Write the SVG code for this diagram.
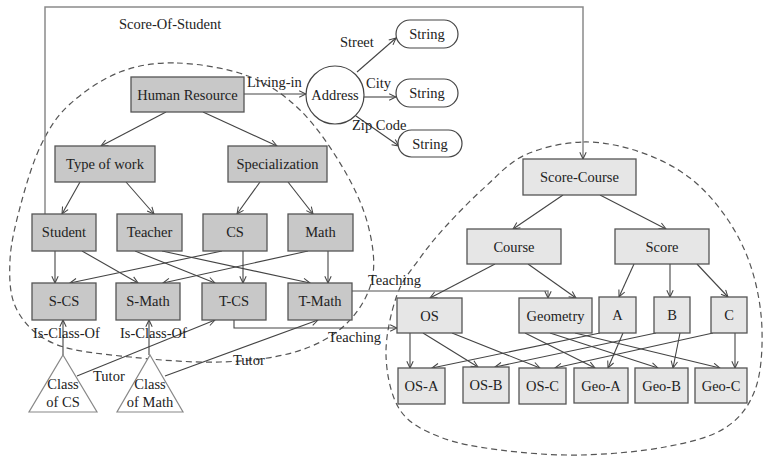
<svg xmlns="http://www.w3.org/2000/svg" width="763" height="456" viewBox="0 0 763 456">
  <defs>
    <marker id="arr" viewBox="0 0 10 10" refX="9.5" refY="5" markerWidth="8" markerHeight="8" markerUnits="userSpaceOnUse" orient="auto">
      <path d="M1,1 L9.5,5 L1,9" fill="none" stroke="#444" stroke-width="1.3"/>
    </marker>
    <style>
      text { font-family: "Liberation Serif", "Times New Roman", serif; font-size: 14.5px; fill: #222; }
      .c { text-anchor: middle; }
      .dark rect { fill: #c8c8c8; stroke: #555; stroke-width: 1.3; }
      .light rect { fill: #e6e6e6; stroke: #555; stroke-width: 1.3; }
      .str rect { fill: #fff; stroke: #444; stroke-width: 1.2; }
      .tri polygon { fill: #fff; stroke: #888; stroke-width: 1.2; }
      .edge { fill: none; stroke: #444; stroke-width: 1.1; marker-end: url(#arr); }
      .edge.grey { stroke: #8a8a8a; stroke-width: 1.5; }
      .region { fill: none; stroke: #555; stroke-width: 1.2; stroke-dasharray: 6 4; }
    </style>
  </defs>
  <rect width="763" height="456" fill="#fff"/>

  <!-- dashed domain regions -->
  <path class="region" d="M177,63 C198.3,63.7 227.5,68.2 248,76 S284.2,94.7 300,110 S331.7,148.8 343,168 S363.2,206.3 368,225 S375.8,263.3 372,280 S357.8,313 345,325 S315.8,345.8 295,352 S247.5,361.2 220,362 S157.5,360 130,357 S73.8,351.8 55,344 S24.5,324 17,310 S9.2,278.3 10,260 S16.7,219.5 22,200 S34,159 42,143 S57,115.8 70,104 S102.2,78.8 120,72 S155.7,62.3 177,63 Z"/>
  <path class="region" d="M583,142 C602.2,141.5 622.2,146 640,152 S675.3,166.7 690,178 S717.7,204.7 728,220 S746.3,251.7 752,270 S761.5,310 762,330 S761.2,373.7 755,390 S740,418.5 725,428 S689.2,442.5 665,447 S607.5,454.5 580,455 S523.3,453 500,450 S456.7,443.7 440,437 S409,423.7 400,410 S386.5,374.2 386,355 S391.3,311.2 397,295 S411.7,269.7 420,258 S436.2,236.8 447,225 S472,198.7 485,187 S508.7,162.5 525,155 S563.8,142.5 583,142 Z"/>

  <!-- connectors -->
  <g id="connectors">
    <path class="edge grey" d="M45,214 V7 H583 V159"/>
    <path class="edge" d="M244,94 H306"/>
    <path class="edge" d="M357,72 L396,38"/>
    <path class="edge" d="M364,97 H396"/>
    <path class="edge" d="M356,116 L399,146"/>
    <path class="edge" d="M166,112 L101,146"/>
    <path class="edge" d="M203,112 L277,146"/>
    <path class="edge" d="M80,182 L62,214"/>
    <path class="edge" d="M126,182 L154,214"/>
    <path class="edge" d="M260,182 L237,214"/>
    <path class="edge" d="M288,182 L313,214"/>
    <path class="edge" d="M55,251 V283"/>
    <path class="edge" d="M82,251 L138,283"/>
    <path class="edge" d="M135,251 L215,283"/>
    <path class="edge" d="M162,251 L310,283"/>
    <path class="edge" d="M222,251 L70,283"/>
    <path class="edge" d="M243,251 V283"/>
    <path class="edge" d="M308,251 L163,283"/>
    <path class="edge" d="M328,251 V283"/>
    <path class="edge" d="M63,355 V320"/>
    <path class="edge" d="M149,355 V320"/>
    <path class="edge" d="M77,376 L215,320"/>
    <path class="edge" d="M165,376 L318,320"/>
    <path class="edge" d="M234,320 V328 H397"/>
    <path class="edge grey" d="M352,291 H548 V298"/>
    <path class="edge" d="M563,195 L513,229"/>
    <path class="edge" d="M600,195 L666,229"/>
    <path class="edge" d="M495,264 L430,298"/>
    <path class="edge" d="M528,264 L576,298"/>
    <path class="edge" d="M634,264 L619,297"/>
    <path class="edge" d="M670,264 V297"/>
    <path class="edge" d="M697,264 L728,297"/>
    <path class="edge" d="M410,333 V368"/>
    <path class="edge" d="M423,333 L478,367"/>
    <path class="edge" d="M452,333 L540,368"/>
    <path class="edge" d="M525,333 L595,368"/>
    <path class="edge" d="M550,333 L658,368"/>
    <path class="edge" d="M575,333 L720,368"/>
    <path class="edge" d="M600,333 L432,368"/>
    <path class="edge" d="M623,333 L608,368"/>
    <path class="edge" d="M656,333 L495,367"/>
    <path class="edge" d="M680,333 L673,368"/>
    <path class="edge" d="M713,333 L555,368"/>
    <path class="edge" d="M735,333 V368"/>
  </g>

  <!-- connector labels -->
  <g id="labels">
    <text x="119" y="29">Score-Of-Student</text>
    <text x="247" y="87">Living-in</text>
    <text x="340" y="47">Street</text>
    <text x="366" y="88">City</text>
    <text x="352" y="130">Zip Code</text>
    <text x="33" y="338">Is-Class-Of</text>
    <text x="120" y="338">Is-Class-Of</text>
    <text x="93" y="381">Tutor</text>
    <text x="233" y="365">Tutor</text>
    <text x="368" y="285">Teaching</text>
    <text x="328" y="342">Teaching</text>
  </g>

  <!-- human resource domain -->
  <g id="human-resource" class="dark"><rect x="131" y="77" width="113" height="35"/><text class="c" x="187.5" y="99.5">Human Resource</text></g>
  <g id="type-of-work" class="dark"><rect x="55" y="146" width="100" height="36"/><text class="c" x="105" y="169">Type of work</text></g>
  <g id="specialization" class="dark"><rect x="228" y="146" width="99" height="36"/><text class="c" x="277.5" y="169">Specialization</text></g>
  <g id="student" class="dark"><rect x="32" y="214" width="64" height="37"/><text class="c" x="64" y="237">Student</text></g>
  <g id="teacher" class="dark"><rect x="117" y="214" width="65" height="37"/><text class="c" x="149.5" y="237">Teacher</text></g>
  <g id="cs" class="dark"><rect x="203" y="214" width="64" height="37"/><text class="c" x="235" y="237">CS</text></g>
  <g id="math" class="dark"><rect x="288" y="214" width="65" height="37"/><text class="c" x="320.5" y="237">Math</text></g>
  <g id="s-cs" class="dark"><rect x="32" y="283" width="64" height="37"/><text class="c" x="64" y="306">S-CS</text></g>
  <g id="s-math" class="dark"><rect x="116" y="283" width="64" height="37"/><text class="c" x="148" y="306">S-Math</text></g>
  <g id="t-cs" class="dark"><rect x="202" y="283" width="64" height="37"/><text class="c" x="234" y="306">T-CS</text></g>
  <g id="t-math" class="dark"><rect x="288" y="283" width="64" height="37"/><text class="c" x="320" y="306">T-Math</text></g>

  <g id="class-of-cs" class="tri"><polygon points="63,355 97,412 29,412"/><text class="c" x="63" y="389">Class</text><text class="c" x="63" y="407">of CS</text></g>
  <g id="class-of-math" class="tri"><polygon points="150,355 183,412 117,412"/><text class="c" x="150" y="389">Class</text><text class="c" x="150" y="407">of Math</text></g>

  <!-- address -->
  <g id="address"><circle cx="335" cy="95" r="29" fill="#fff" stroke="#444" stroke-width="1.2"/><text class="c" x="335" y="100">Address</text></g>
  <g id="string-street" class="str"><rect x="396" y="20" width="62" height="28" rx="14"/><text class="c" x="427" y="39">String</text></g>
  <g id="string-city" class="str"><rect x="396" y="79" width="62" height="28" rx="14"/><text class="c" x="427" y="98">String</text></g>
  <g id="string-zip" class="str"><rect x="398" y="130" width="64" height="27" rx="13.5"/><text class="c" x="430" y="148.5">String</text></g>

  <!-- score-course domain -->
  <g id="score-course" class="light"><rect x="523" y="159" width="113" height="36"/><text class="c" x="579.5" y="182">Score-Course</text></g>
  <g id="course" class="light"><rect x="467" y="229" width="94" height="35"/><text class="c" x="514" y="251.5">Course</text></g>
  <g id="score" class="light"><rect x="615" y="229" width="94" height="35"/><text class="c" x="662" y="251.5">Score</text></g>
  <g id="os" class="light"><rect x="397" y="298" width="65" height="35"/><text class="c" x="429.5" y="320.5">OS</text></g>
  <g id="geometry" class="light"><rect x="519" y="298" width="73" height="35"/><text class="c" x="555.5" y="320.5">Geometry</text></g>
  <g id="a" class="light"><rect x="599" y="297" width="37" height="36"/><text class="c" x="617.5" y="320">A</text></g>
  <g id="b" class="light"><rect x="654" y="297" width="36" height="36"/><text class="c" x="672" y="320">B</text></g>
  <g id="c" class="light"><rect x="711" y="297" width="36" height="36"/><text class="c" x="729" y="320">C</text></g>
  <g id="os-a" class="light"><rect x="398" y="368" width="47" height="36"/><text class="c" x="421.5" y="391">OS-A</text></g>
  <g id="os-b" class="light"><rect x="463" y="367" width="46" height="36"/><text class="c" x="486" y="390">OS-B</text></g>
  <g id="os-c" class="light"><rect x="519" y="368" width="47" height="36"/><text class="c" x="542.5" y="391">OS-C</text></g>
  <g id="geo-a" class="light"><rect x="574" y="368" width="54" height="35"/><text class="c" x="601" y="390.5">Geo-A</text></g>
  <g id="geo-b" class="light"><rect x="635" y="368" width="53" height="35"/><text class="c" x="661.5" y="390.5">Geo-B</text></g>
  <g id="geo-c" class="light"><rect x="695" y="368" width="52" height="35"/><text class="c" x="721" y="390.5">Geo-C</text></g>
</svg>
